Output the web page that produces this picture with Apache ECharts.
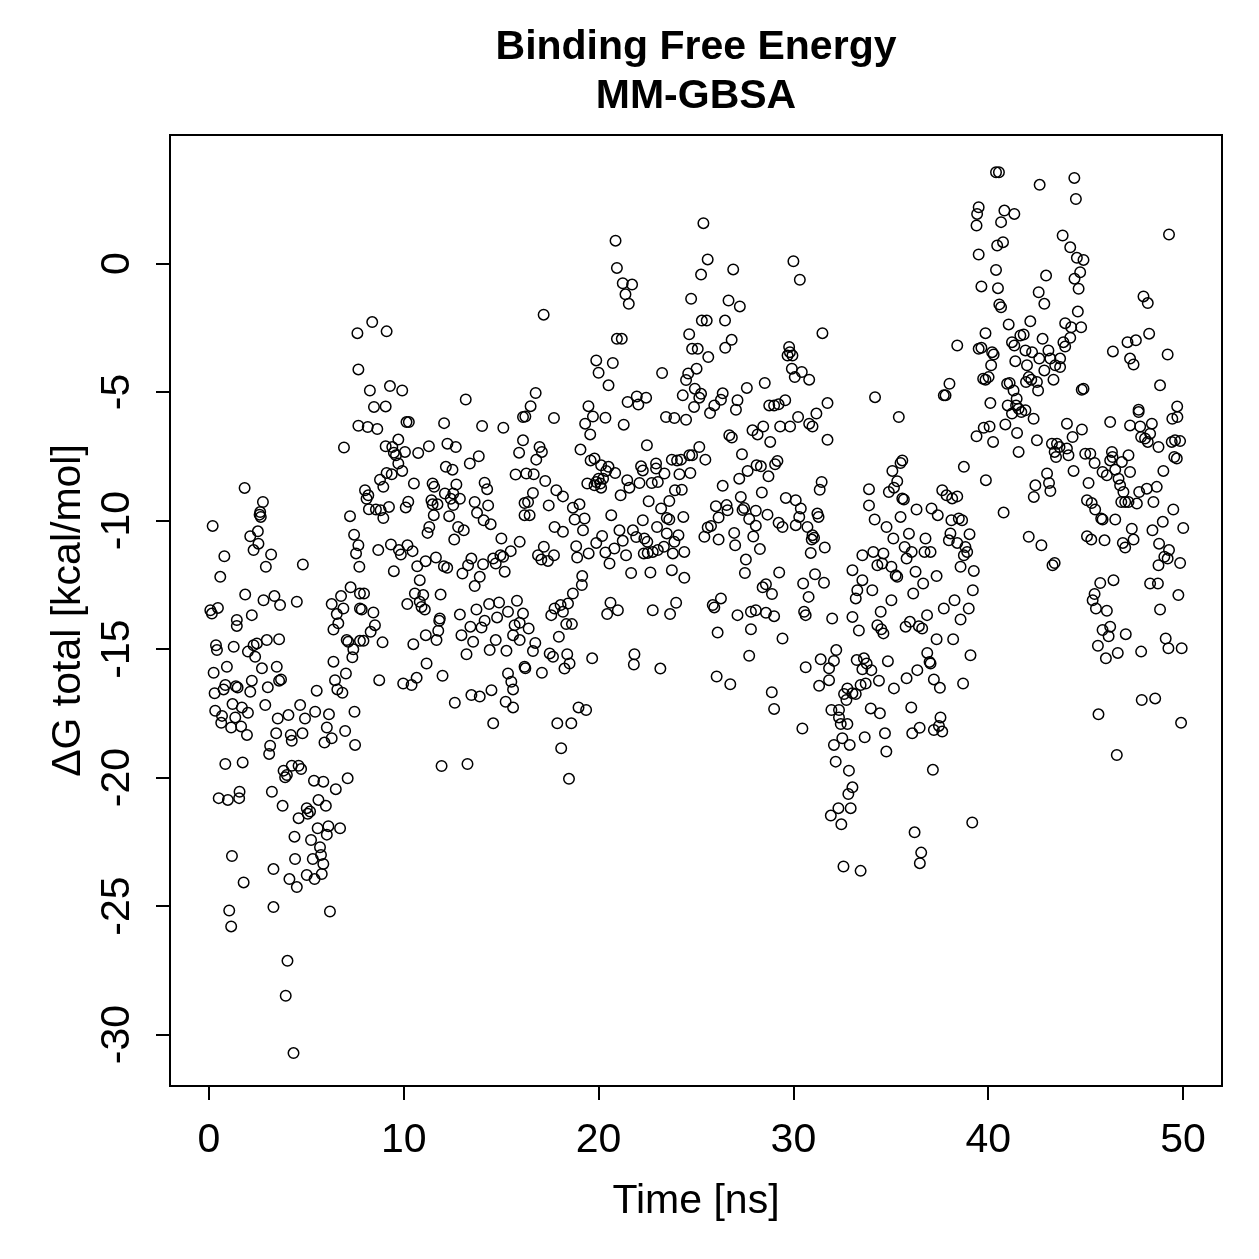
<!DOCTYPE html>
<html>
<head>
<meta charset="utf-8">
<script src="https://cdn.jsdelivr.net/npm/echarts@6/dist/echarts.min.js"></script>
<style>
  html, body { margin:0; padding:0; background:#fff; }
  #chart { width:1259px; height:1259px; }
</style>
</head>
<body>
<div id="chart"></div>
<script>
// tick labels
var xTicks = [0, 10, 20, 30, 40, 50];
var yTicks = [-30, -25, -20, -15, -10, -5, 0];

// [time (ns), dG total (kcal/mol)], in 6 time blocks
var block0to8 = [[7.62,-2.71],[7.67,-4.12],[7.67,-6.31],[6.93,-7.16],[1.83,-8.73],[2.77,-9.28],[2.63,-9.67],[2.66,-9.86],[2.6,-9.77],[0.19,-10.21],[7.24,-9.83],[2.51,-10.42],[2.12,-10.61],[2.54,-10.9],[2.29,-11.15],[7.45,-10.55],[7.67,-10.96],[7.55,-11.28],[7.72,-11.8],[3.19,-11.32],[0.79,-11.39],[2.92,-11.8],[4.82,-11.71],[0.58,-12.19],[1.86,-12.88],[7.27,-12.6],[6.78,-12.94],[7.75,-12.84],[2.8,-13.1],[3.36,-12.94],[3.65,-13.29],[4.51,-13.16],[6.3,-13.25],[6.9,-13.42],[6.56,-13.64],[7.75,-13.42],[0.07,-13.49],[0.46,-13.4],[0.15,-13.62],[2.2,-13.68],[1.43,-13.87],
[6.64,-14.0],[6.39,-14.24],[1.43,-14.1],[0.36,-14.85],[0.41,-15.04],[1.27,-14.91],[2.0,-15.1],[2.29,-14.85],[2.46,-14.78],[2.37,-15.3],[2.97,-14.65],[3.6,-14.62],[2.72,-15.75],[3.48,-15.69],[3.7,-16.18],[3.6,-16.23],[0.24,-15.92],[0.92,-15.69],[0.84,-16.4],[0.75,-16.57],[1.38,-16.45],[1.47,-16.5],[2.12,-16.66],[2.2,-16.23],[0.29,-16.72],[3.02,-16.49],[5.53,-16.62],[6.39,-15.49],[6.47,-16.21],[6.59,-16.57],[6.85,-16.7],[7.03,-15.95],[7.15,-14.72],[7.07,-14.65],[7.41,-15.01],[7.36,-15.32],[7.75,-14.68],
[1.21,-17.14],[1.69,-17.27],[2.0,-17.48],[0.32,-17.4],[0.67,-17.6],[0.63,-17.87],[1.14,-18.05],[1.35,-17.66],[1.65,-18.01],[1.95,-18.34],[2.89,-17.18],[3.53,-17.7],[4.08,-17.57],[4.68,-17.18],[4.93,-17.7],[5.45,-17.44],[6.16,-17.54],[6.05,-18.05],[5.93,-18.64],[6.3,-18.47],[6.99,-18.19],[7.47,-17.44],[7.5,-18.73],[3.45,-18.28],[4.2,-18.34],[4.25,-18.57],[4.8,-18.28],[3.14,-18.76],[3.09,-19.08],[0.84,-19.47],[1.73,-19.41],[3.83,-19.73],[4.0,-19.9],[3.91,-19.99],[4.25,-19.54],[4.6,-19.54],[4.73,-19.67],[5.39,-20.12],[5.87,-20.16],[6.51,-20.45],[7.12,-20.03],[0.5,-20.8],[0.97,-20.87],[1.55,-20.8],[1.57,-20.55],[3.23,-20.55],[3.78,-21.1],[4.6,-21.58],[5.02,-21.19],[5.19,-21.32],[5.07,-21.41],[5.62,-20.87],[6.0,-21.1],[5.58,-21.97],[6.13,-21.89],[6.73,-21.97],[6.05,-22.22],[4.39,-22.3],[5.24,-22.43],[5.7,-22.71],[5.75,-23.01],[5.33,-23.17],[5.87,-23.36],[5.79,-23.75],[5.02,-23.79],[5.42,-23.95],[4.42,-23.17],[3.31,-23.56],[4.13,-23.95],[4.51,-24.26],[1.18,-23.05],[1.78,-24.08],[1.04,-25.17],[1.14,-25.79],[3.31,-25.04],[6.21,-25.21],[4.03,-27.13],[3.94,-28.49],[4.34,-30.72]];

var block8to16 = [[8.38,-2.28],[9.12,-2.64],[9.29,-4.77],[9.92,-4.94],[8.26,-4.94],[8.47,-5.58],[9.07,-5.56],[13.18,-5.29],[16.12,-5.97],[8.15,-6.36],[8.64,-6.44],[10.14,-6.17],[10.26,-6.17],[12.07,-6.21],[14.02,-6.32],[15.11,-6.39],[16.12,-6.88],[15.92,-7.36],[15.74,-8.21],[9.72,-6.85],[9.07,-7.11],[9.41,-7.14],[9.49,-7.36],[9.6,-7.46],[10.06,-7.33],[10.74,-7.37],[11.29,-7.11],[12.24,-7.01],[12.67,-7.14],[13.85,-7.5],[13.39,-7.78],[9.72,-7.78],[9.92,-8.07],[9.38,-8.2],[9.12,-8.15],[12.16,-7.91],[12.5,-8.02],[8.78,-8.41],[8.95,-8.69],[8.01,-8.82],[8.18,-9.02],[8.09,-9.15],[8.57,-9.57],[8.21,-9.56],[8.81,-9.6],[8.95,-9.9],[9.24,-9.47],[10.52,-8.56],[11.48,-8.56],[11.56,-8.69],[11.42,-9.21],[11.48,-9.37],[11.73,-9.37],[11.54,-9.79],[11.31,-10.25],[11.22,-10.48],[10.23,-9.27],[10.1,-9.49],[12.11,-8.95],[12.54,-8.95],[12.41,-9.15],[12.7,-8.6],[12.88,-9.15],[12.54,-9.4],[12.33,-9.83],[12.79,-10.25],[13.08,-10.38],[12.59,-10.74],[14.15,-8.53],[14.28,-8.78],[13.64,-9.28],[13.76,-9.7],[14.33,-9.41],[14.1,-9.99],[14.46,-10.14],[16.2,-9.32],[16.2,-9.79],
[8.69,-11.15],[9.34,-10.93],[9.75,-11.15],[9.85,-11.32],[10.19,-10.96],[10.45,-11.19],[15.01,-10.7],[15.95,-10.83],[15.49,-11.19],[14.96,-11.35],[15.1,-11.41],[14.72,-11.67],[14.59,-11.48],[15.18,-11.99],[10.69,-11.78],[11.12,-11.58],[11.65,-11.44],[12.06,-11.78],[12.23,-11.84],[13.01,-12.06],[13.47,-11.48],[13.3,-11.74],[14.07,-11.7],[13.9,-12.19],[13.64,-12.55],[9.49,-11.97],[10.82,-12.32],[7.96,-12.84],[10.57,-12.84],[11.0,-12.9],[10.82,-13.16],[10.91,-13.36],[11.08,-13.46],[10.18,-13.25],[11.89,-12.88],[7.84,-13.46],[8.44,-13.58],[12.88,-13.66],[13.73,-13.46],[14.38,-13.25],[14.89,-13.19],[15.81,-13.12],[15.35,-13.55],[16.12,-13.62],[11.85,-13.81],
[8.52,-14.07],[8.3,-14.33],[7.93,-14.68],[8.91,-14.74],[11.82,-13.9],[11.77,-14.29],[11.68,-14.65],[11.13,-14.46],[10.49,-14.81],[11.17,-15.56],[11.99,-16.04],[8.74,-16.21],[9.97,-16.34],[10.4,-16.4],[10.66,-16.12],[13.42,-14.13],[13.99,-14.16],[14.15,-13.9],[14.79,-13.77],[12.96,-14.46],[13.56,-14.72],[13.22,-15.2],[14.41,-15.04],[14.72,-14.65],[15.27,-15.07],[15.61,-14.46],[15.95,-14.65],[15.69,-14.07],[15.95,-13.98],[16.2,-15.69],[15.35,-15.95],[15.52,-16.27],[15.61,-16.57],[15.23,-17.05],[15.61,-17.27],[14.5,-16.6],[13.47,-16.79],[13.9,-16.85],[12.62,-17.09],[14.59,-17.89],[11.94,-19.55],[13.27,-19.47]];

var block16to24 = [[20.87,0.89],[20.94,-0.17],[21.24,-0.77],[21.72,-0.82],[21.38,-1.2],[21.55,-1.57],[17.18,-1.99],[20.94,-2.93],[21.19,-2.93],[19.88,-3.77],[20.73,-3.87],[20.0,-4.25],[20.51,-4.74],[23.26,-4.26],[16.77,-5.04],[16.51,-5.55],[16.24,-5.95],[17.71,-6.01],[19.48,-5.55],[19.71,-5.95],[19.31,-6.23],[19.57,-6.65],[20.35,-6.0],[21.49,-5.39],[21.96,-5.17],[22.44,-5.22],[22.04,-5.49],[21.29,-6.27],[23.46,-5.97],[23.89,-6.01],[24.49,-6.08],[16.97,-7.14],[17.09,-7.33],[16.8,-7.63],[19.07,-7.24],[22.48,-7.07],
[19.59,-7.66],[19.79,-7.59],[20.13,-7.85],[20.51,-7.91],[20.39,-8.07],[20.85,-8.15],[20.0,-8.37],[20.23,-8.37],[20.09,-8.56],[20.13,-8.72],[19.42,-8.56],[19.88,-8.5],[19.79,-8.63],[22.18,-7.89],[22.27,-8.05],[22.95,-7.78],[22.95,-7.98],[23.38,-8.17],[23.76,-7.63],[24.03,-7.66],[24.23,-7.63],[24.15,-8.2],[24.66,-7.46],[24.71,-8.15],[16.29,-8.17],[16.67,-8.2],[17.26,-8.46],[21.47,-8.43],[21.58,-8.72],[22.1,-8.54],[22.73,-8.54],[23.04,-8.5],[17.83,-8.82],[18.17,-9.06],[16.63,-8.93],[16.38,-9.28],[17.44,-9.41],[16.46,-9.79],[21.13,-9.02],[23.92,-8.82],[24.27,-8.8],[23.63,-9.24],[23.21,-9.53],[18.68,-9.5],[19.02,-9.37],[18.77,-9.96],[19.28,-9.92],[19.2,-10.38],[17.74,-10.25],[18.17,-10.44],[20.65,-9.79],[22.27,-9.99],[22.57,-9.25],[23.0,-10.25],[23.5,-9.9],[23.63,-9.96],[24.35,-9.86],
[17.19,-11.02],[16.89,-11.35],[17.06,-11.52],[17.4,-11.57],[17.71,-11.35],[18.85,-11.0],[18.9,-11.44],[19.49,-11.28],[19.88,-10.87],[20.18,-10.6],[20.35,-11.24],[20.56,-11.67],[20.81,-11.09],[21.07,-10.38],[21.24,-10.79],[21.41,-11.35],[21.76,-10.38],[21.93,-10.64],[22.35,-10.7],[22.5,-10.83],[22.32,-11.28],[22.52,-11.26],[22.78,-11.22],[23.04,-11.15],[23.35,-11.02],[23.5,-10.5],[23.89,-10.83],[24.1,-10.57],[23.81,-11.28],[24.4,-11.22],[21.67,-12.04],[22.66,-12.02],[23.76,-11.93],[24.4,-12.23],[19.16,-12.16],[19.14,-12.51],[18.68,-12.84],[18.43,-13.23],[18.05,-13.29],[17.74,-13.42],[17.57,-13.68],[18.17,-13.55],[20.61,-13.2],[20.99,-13.49],[20.44,-13.64],[22.78,-13.49],[23.67,-13.64],[23.98,-13.2],
[16.41,-14.2],[16.75,-14.76],[16.63,-15.08],[16.24,-15.75],[17.09,-15.92],[18.34,-14.03],[18.63,-14.03],[17.96,-14.52],[17.49,-15.17],[17.66,-15.3],[18.39,-15.2],[18.51,-15.56],[18.25,-15.76],[19.67,-15.36],[21.84,-15.2],[21.81,-15.6],[23.17,-15.76],[18.97,-17.27],[19.36,-17.37],[17.88,-17.89],[18.6,-17.89],[18.08,-18.86],[18.48,-20.05]];

var block24to33 = [[24.75,-1.37],[24.65,-2.75],[24.8,-3.32],[24.6,-4.28],[24.49,-4.53],[24.32,-5.13],[24.9,-5.58],
[25.38,1.57],[25.6,0.16],[25.26,-0.43],[26.91,-0.23],[30.0,0.09],[30.33,-0.63],[26.67,-1.44],[27.25,-1.67],[25.3,-2.22],[25.55,-2.22],[26.49,-2.22],[26.83,-2.97],[26.5,-3.28],[25.09,-3.32],[25.63,-3.64],[25.03,-4.09],[31.49,-2.71],[29.78,-3.25],[29.82,-3.45],[29.7,-3.58],[29.95,-3.58],[29.92,-4.09],[30.07,-4.42],[30.43,-4.22],[30.81,-4.52],[24.94,-4.87],[25.26,-5.07],[25.17,-5.22],[25.72,-5.82],[25.94,-5.52],[26.37,-5.05],[26.28,-5.3],[27.13,-5.32],[27.05,-5.69],[27.61,-4.84],[28.53,-4.65],[28.76,-5.52],[29.01,-5.52],[29.24,-5.48],[29.58,-5.32],[30.24,-5.97],[31.18,-5.84],[31.75,-5.43],[30.81,-6.23],[30.98,-6.34],[29.32,-6.34],[29.83,-6.34],[31.75,-6.86],[26.71,-6.68],[26.84,-6.77],[27.9,-6.49],[28.16,-6.65],[28.45,-6.34],[28.81,-6.94],[25.17,-7.14],[24.8,-7.46],[25.48,-7.63],[27.36,-7.42],[27.65,-8.07],[27.22,-8.37],[28.11,-7.85],[28.33,-7.89],[28.72,-8.28],[29.06,-7.81],[29.18,-7.68],[26.37,-8.65],[27.3,-9.08],[28.38,-8.91],[29.61,-9.12],[30.12,-9.21],[30.38,-9.53],[30.3,-9.86],[31.45,-8.5],[31.35,-8.8],
[26.02,-9.44],[26.57,-9.4],[26.62,-9.6],[26.16,-9.88],[25.77,-10.21],[25.6,-10.27],[25.43,-10.63],[26.16,-10.74],[26.96,-10.48],[27.01,-10.96],[27.39,-9.59],[27.47,-9.51],[27.73,-9.94],[28.07,-9.62],[28.07,-10.2],[27.94,-10.62],[28.28,-11.11],[28.67,-9.77],[27.56,-11.52],[27.51,-12.04],[29.24,-10.09],[29.44,-10.25],[30.12,-10.18],[30.72,-10.25],[30.98,-10.57],[30.94,-10.74],[31.23,-9.73],[31.29,-9.86],[31.61,-11.05],[30.89,-11.26],[31.06,-10.67],[33.03,-11.93],
[29.27,-12.02],[30.5,-12.45],[31.11,-12.09],[31.57,-12.42],[30.78,-12.97],[28.42,-12.6],[28.59,-12.48],[28.9,-12.86],[26.28,-13.03],[25.86,-13.29],[25.94,-13.38],[27.13,-13.68],[27.82,-13.55],[28.07,-13.49],[28.59,-13.59],[29.01,-13.72],[30.55,-13.55],[30.63,-13.68],[31.99,-13.81],[33.03,-13.75],
[26.11,-14.36],[27.82,-14.23],[29.44,-14.59],[27.73,-15.26],[26.06,-16.07],[26.76,-16.37],[28.89,-16.68],[29.01,-17.33],[30.46,-18.09],[30.63,-15.71],[31.4,-15.4],[31.83,-15.75],[32.08,-15.46],[32.2,-15.04],[31.83,-16.21],[31.32,-16.43],[32.77,-16.53],[32.6,-16.75],[32.72,-16.98],[33.03,-16.72],[31.95,-17.37],[32.34,-17.37],[32.34,-17.66],[32.43,-17.92],[32.77,-17.92],[32.08,-18.73],[32.51,-18.47],[32.89,-18.73],[32.17,-19.38],[32.85,-19.73],[33.03,-20.38],[32.82,-20.64],[32.94,-21.19],[32.31,-21.19],[31.92,-21.48],[32.46,-21.82],[32.57,-23.46]];

var block33to41 = [[40.4,3.55],[40.55,3.55],[39.51,2.19],[39.43,1.93],[39.4,1.48],[40.83,2.06],[41.34,1.93],[40.66,1.61],[40.46,0.7],[40.76,0.83],[39.51,0.35],[40.4,-0.25],[39.65,-0.89],[40.5,-0.96],[40.57,-1.59],[40.66,-1.7],[41.05,-2.37],[39.86,-2.71],[39.51,-3.32],[39.65,-3.28],[40.2,-3.45],[40.28,-3.54],[40.15,-3.96],[39.74,-4.48],[39.86,-4.52],[40.02,-4.42],[38.41,-3.19],[41.22,-3.06],[41.34,-3.19],[41.39,-3.8],[41.65,-2.8],[38.01,-4.68],[37.81,-5.13],[37.72,-5.13],[40.97,-4.68],[41.1,-4.65],[41.3,-4.94],[41.0,-5.52],[41.43,-5.52],[41.56,-5.65],[41.22,-5.84],[40.11,-5.43],[34.19,-5.2],[35.41,-5.97],[40.88,-6.26],[41.48,-6.59],[41.56,-7.33],[39.4,-6.72],[39.77,-6.39],[40.07,-6.34],[40.25,-6.94],[38.75,-7.91],[39.88,-8.43],[40.79,-9.69],
[35.59,-7.66],[35.5,-7.76],[35.08,-8.07],[35.33,-8.47],[35.16,-8.72],[34.9,-8.89],[35.59,-9.14],[35.67,-9.18],[35.5,-9.86],[33.88,-8.78],[33.88,-9.41],[34.17,-9.96],[34.78,-10.25],[35.13,-10.7],[35.93,-10.51],[35.71,-11.03],[36.07,-11.22],[35.81,-11.48],[36.32,-9.57],[36.78,-10.7],[36.73,-11.22],[37.04,-11.22],[37.09,-9.53],[37.41,-9.79],[37.64,-8.82],[37.86,-9.02],[38.15,-9.14],[38.41,-9.06],[38.11,-9.99],[38.49,-9.92],[38.66,-9.99],[39.04,-10.53],[38.06,-10.5],[37.98,-10.77],[38.41,-10.87],[38.83,-11.03],[38.92,-11.22],[38.75,-11.35],[38.58,-11.8],[39.26,-11.96],[39.21,-12.71],
[33.54,-11.35],[34.1,-11.22],[34.62,-11.28],[34.56,-11.67],[34.31,-11.74],[35.03,-11.8],[35.33,-12.19],[35.25,-12.13],[36.27,-11.99],[36.66,-12.45],[37.35,-12.16],[36.15,-12.84],[35.03,-13.1],[34.48,-13.55],[33.54,-12.32],[33.28,-12.71],[33.2,-13.03],[34.05,-12.71],[36.86,-13.68],[37.72,-13.42],[38.27,-13.1],[39.0,-13.42],
[38.58,-13.85],[34.31,-14.07],[34.51,-14.23],[34.62,-14.39],[35.76,-14.13],[35.98,-13.94],[36.44,-14.11],[36.61,-14.2],[37.35,-14.62],[38.2,-14.62],[33.36,-14.28],[33.25,-15.43],[33.62,-15.36],[33.76,-15.56],[34.0,-15.82],[33.54,-15.79],[33.45,-16.4],[33.71,-16.34],[33.2,-16.75],[34.39,-16.23],[34.85,-15.47],[35.16,-16.53],[35.81,-16.14],[36.36,-15.82],[36.87,-15.15],[36.99,-15.5],[37.04,-15.56],[37.21,-16.18],[37.52,-16.51],[38.71,-16.34],[39.09,-15.24],[33.97,-17.31],[34.44,-17.5],[36.05,-17.27],[33.66,-18.43],[34.7,-18.28],[34.77,-18.99],[36.1,-18.28],[36.48,-18.06],[37.21,-18.15],[37.55,-17.66],[37.47,-17.99],[37.64,-18.21],[37.16,-19.7],[39.18,-21.75],[36.22,-22.13],[36.56,-22.92],[36.49,-23.33],[33.45,-23.63]];

var block41to50 = [[42.64,3.06],[44.42,3.33],[44.5,2.51],[49.28,1.13],[43.82,1.09],[44.21,0.63],[44.55,0.22],[44.89,0.14],[44.72,-0.34],[44.43,-0.59],[44.64,-0.98],[42.97,-0.47],[42.59,-1.12],[42.88,-1.57],[44.6,-1.87],[43.95,-2.32],[44.26,-2.48],[44.77,-2.48],[42.16,-2.25],[41.82,-2.76],[41.91,-3.38],[42.25,-3.45],[41.99,-3.96],[42.08,-4.42],[41.94,-4.61],[42.5,-4.61],[42.56,-4.94],[42.21,-4.52],[42.79,-2.93],[43.09,-3.38],[43.69,-3.7],[43.69,-4.03],[43.86,-3.06],[43.95,-3.23],[44.21,-2.89],[43.44,-3.96],[42.88,-4.16],[43.35,-4.52],[42.62,-3.7],[43.19,-3.7],[44.89,-4.87],[44.8,-4.91],[41.46,-5.26],[41.7,-5.78],[41.91,-5.71],[42.33,-6.04],[42.5,-6.88],[44.04,-6.23],[44.81,-6.46],[44.33,-6.75],[43.27,-7.01],[43.53,-7.01],[43.66,-7.14],[43.41,-7.33],[43.48,-7.53],[44.04,-7.2],[44.12,-7.46],[44.38,-8.07],[43.02,-8.17],[43.12,-8.54],[42.42,-8.63],[42.34,-9.08],[43.19,-8.85],[42.08,-10.63],[42.73,-10.96],[43.3,-11.74],[43.41,-11.65],
[44.98,-7.4],[45.24,-7.4],[45.46,-7.76],[45.87,-8.11],[46.09,-8.24],[46.35,-7.33],[46.38,-7.53],[46.26,-7.66],[46.52,-8.02],[46.86,-7.72],[47.2,-7.46],[47.28,-8.11],[46.69,-8.37],[46.77,-8.63],[46.94,-8.89],[46.83,-9.28],[47.03,-9.28],[47.2,-9.28],[47.63,-9.34],[47.75,-8.89],[48.14,-8.76],[48.65,-8.69],[48.48,-9.28],[48.99,-8.07],[45.15,-8.54],[45.07,-9.21],[45.31,-9.32],[45.49,-9.57],[45.8,-9.92],[45.87,-9.96],[46.52,-9.96],[47.37,-10.32],[47.46,-10.74],[46.91,-10.87],[47.03,-11.05],[45.07,-10.61],[45.29,-10.74],[45.97,-10.77],[48.43,-10.38],[48.77,-10.9],[48.96,-10.05],[49.5,-9.57],[50.01,-10.29],[49.04,-11.41],[49.21,-11.48],[49.28,-11.15],[48.74,-11.74],[49.85,-11.65],[48.82,-13.46],[49.76,-12.9],[48.31,-12.45],[48.71,-12.45],[45.75,-12.43],[46.43,-12.32],[45.46,-12.86],[45.36,-13.1],[45.53,-13.42],[46.09,-13.51],[47.72,-5.69],[47.72,-5.78],[47.28,-6.3],[47.8,-6.34],[47.85,-6.75],[48.05,-6.81],[48.19,-6.94],[48.31,-6.62],[48.4,-6.23],[48.74,-7.14],[49.42,-6.94],[49.59,-6.88],[49.85,-6.91],[49.55,-7.53],[49.68,-7.59],[49.71,-5.97],[49.45,-6.04],[49.7,-5.56],[47.97,-1.28],[48.19,-1.54],[46.4,-3.42],[47.15,-3.06],[47.58,-2.99],[48.26,-2.73],[49.21,-3.54],[47.28,-3.7],[47.46,-3.93],[48.82,-4.74],[46.26,-6.17],
[45.87,-14.26],[46.26,-14.13],[46.18,-14.5],[45.63,-14.87],[46.04,-15.36],[46.65,-15.15],[47.06,-14.42],[47.85,-15.1],[49.11,-14.59],[49.25,-14.97],[49.93,-14.97],[47.88,-16.98],[48.57,-16.92],[45.66,-17.54],[49.9,-17.87],[46.6,-19.12]];

var FONT = '"Liberation Sans", Arial, Helvetica, sans-serif';
var points = [].concat(block0to8, block8to16, block16to24, block24to33, block33to41, block41to50);

var option = {
    animation: false,
    backgroundColor: '#fff',
    title: {
        text: 'Binding Free Energy\nMM-GBSA',
        left: 696, top: 23, padding: 0,
        textAlign: 'center',
        textStyle: {fontFamily: FONT, fontWeight: 'bold', fontSize: 41, lineHeight: 49, color: '#000'}
    },
    grid: {left: 170, top: 135, width: 1052, height: 951, show: true, borderColor: '#000', borderWidth: 2, backgroundColor: 'transparent'},
    xAxis: {
        type: 'value', min: -2, max: 52,
        name: 'Time [ns]', nameLocation: 'middle', nameGap: 95,
        nameTextStyle: {fontFamily: FONT, fontSize: 41, color: '#000'},
        axisLine: {show: false, onZero: false},
        splitLine: {show: false},
        axisTick: {show: true, length: 14, customValues: xTicks, lineStyle: {color: '#000', width: 2}},
        axisLabel: {customValues: xTicks, margin: 34, fontFamily: FONT, fontSize: 41, color: '#000'}
    },
    yAxis: {
        type: 'value', min: -32, max: 5,
        name: 'ΔG total [kcal/mol]', nameLocation: 'middle', nameGap: 60,
        nameTextStyle: {fontFamily: FONT, fontSize: 41, color: '#000'},
        axisLine: {show: false, onZero: false},
        splitLine: {show: false},
        axisTick: {show: true, length: 14, customValues: yTicks, lineStyle: {color: '#000', width: 2}},
        axisLabel: {customValues: yTicks, rotate: 90, margin: 32, fontFamily: FONT, fontSize: 41, color: '#000'}
    },
    series: [{
        type: 'scatter',
        data: points,
        symbol: 'circle',
        symbolSize: 10.5,
        itemStyle: {color: 'rgba(0,0,0,0)', borderColor: '#000', borderWidth: 1.5, opacity: 1}
    }]
};
echarts.init(document.getElementById('chart')).setOption(option);
</script>
</body>
</html>
